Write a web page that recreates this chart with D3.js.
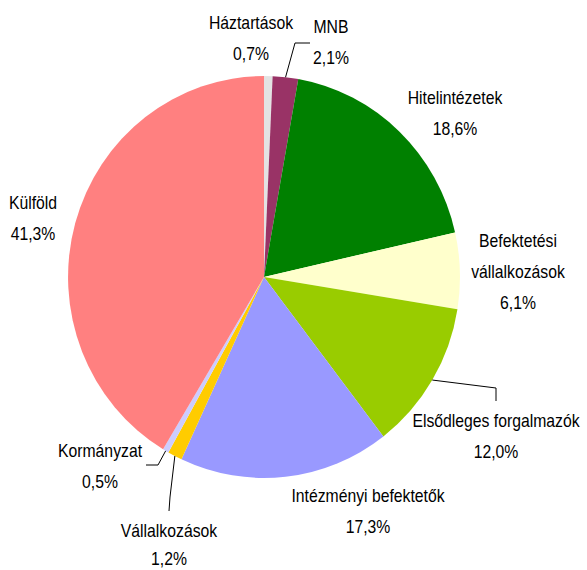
<!DOCTYPE html>
<html>
<head>
<meta charset="utf-8">
<script src="https://cdn.jsdelivr.net/npm/d3@7"></script>
<style>
  html, body { margin: 0; padding: 0; background: #fff; }
  svg { display: block; }
  .lbl { font-family: "Liberation Sans", Arial, sans-serif; font-size: 19px; fill: #000; }
  .leader { fill: none; stroke: #000; stroke-width: 1; }
</style>
</head>
<body>
<svg id="chart" width="587" height="570"></svg>
<script>
// slices, clockwise from 12 o'clock
var nameLines = [
   ["Háztartások"],
   ["MNB"],
   ["Hitelintézetek"],
   ["Befektetési", "vállalkozások"],
   ["Elsődleges forgalmazók"],
   ["Intézményi befektetők"],
   ["Vállalkozások"],
   ["Kormányzat"],
   ["Külföld"]
];
var shares = [0.7, 2.1, 18.6, 6.1, 12.0, 17.3, 1.2, 0.5, 41.3];
var colors = ["#e3e3e3", "#993366", "#008000", "#ffffcc", "#99cc00", "#9999ff", "#ffcc00", "#ccccff", "#ff8080"];

var width = 587, height = 570;
var cx = 264, cy = 277;      // pie centre
var rx = 196, ry = 201;      // pie is a touch taller than wide
var narrow = 0.83;           // squeeze text like Arial Narrow

// where each label sits (first line baseline) and optional leader bend/end points
var labelLayout = [
   {x: 251, y: 29},
   {x: 331, y: 33, leader: [[295, 43], [310, 43]]},
   {x: 455, y: 104},
   {x: 518, y: 247},
   {x: 496, y: 427, leader: [[496, 388], [496, 401]]},
   {x: 368, y: 502},
   {x: 169, y: 537, gap: 28, leader: [[170, 497], [169, 511]]},
   {x: 100, y: 457, leader: [[158, 465], [146, 465]]},
   {x: 33, y: 209}
];
var lineGap = 31;

var svg = d3.select("#chart");

var pie = d3.pie().sort(null).value(function(d){ return d; });
var arcs = pie(shares);

var arc = d3.arc().innerRadius(0).outerRadius(1);

svg.append("g")
   .attr("transform", "translate(" + cx + "," + cy + ") scale(" + rx + "," + ry + ")")
   .selectAll("path")
   .data(arcs)
   .enter()
   .append("path")
   .attr("d", arc)
   .attr("fill", function(d, i){ return colors[i]; });

var fmt = function(v){ return d3.format(".1f")(v).replace(".", ",") + "%"; };

// point on the pie rim at the middle of a slice
function rimPoint(d){
   var a = (d.startAngle + d.endAngle) / 2;
   return [cx + rx * Math.sin(a), cy - ry * Math.cos(a)];
}

var line = d3.line();
arcs.forEach(function(d, i){
   var lay = labelLayout[i];
   var gap = lay.gap || lineGap;
   if(lay.leader){
      svg.append("path")
         .attr("class", "leader")
         .attr("d", line([rimPoint(d)].concat(lay.leader)));
   }
   var lines = nameLines[i].concat([fmt(shares[i])]);
   var t = svg.append("text")
      .attr("class", "lbl")
      .attr("text-anchor", "middle")
      .attr("transform", "translate(" + lay.x + ",0) scale(" + narrow + ",1)");
   lines.forEach(function(s, k){
      t.append("tspan")
         .attr("x", 0)
         .attr("y", lay.y + k * gap)
         .text(s);
   });
});
</script>
</body>
</html>
